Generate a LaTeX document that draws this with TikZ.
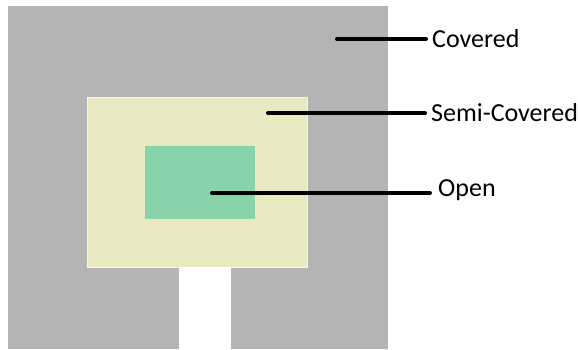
\documentclass[tikz,border=0pt]{standalone}
\usepackage{fontspec}
\setmainfont{Carlito}
\definecolor{covgray}{HTML}{B4B4B4}
\definecolor{semibeige}{HTML}{E8E8C3}
\definecolor{opengreen}{HTML}{88D3AA}
\begin{document}
\begin{tikzpicture}[x=1pt,y=-1pt,
  lbl/.style={anchor=west,inner sep=0pt,font=\fontsize{26}{29}\selectfont},
  leader/.style={line width=4pt,line cap=round,black}]
\useasboundingbox[fill=white] (0,0) rectangle (578,349);
\fill[covgray] (8,6) rectangle (388,349);
\fill[semibeige,draw=white!60!semibeige,line width=0.6pt] (87,97) rectangle (307,267);
\fill[white] (179,267) rectangle (231,349);
\fill[opengreen] (145,146) rectangle (255,219);
\node[lbl] (cov) at (432,39) {Covered};
\node[lbl] (semi) at (431,113) {Semi-Covered};
\node[lbl] (open) at (438,190) {Open};
\coordinate (pc) at (337,39);
\coordinate (ps) at (268,113);
\coordinate (po) at (212,193);
\draw[leader] (pc) -- ([xshift=-6pt]pc -| cov.west);
\draw[leader] (ps) -- ([xshift=-6pt]ps -| semi.west);
\draw[leader] (po) -- ([xshift=-8pt]po -| open.west);
\end{tikzpicture}
\end{document}
